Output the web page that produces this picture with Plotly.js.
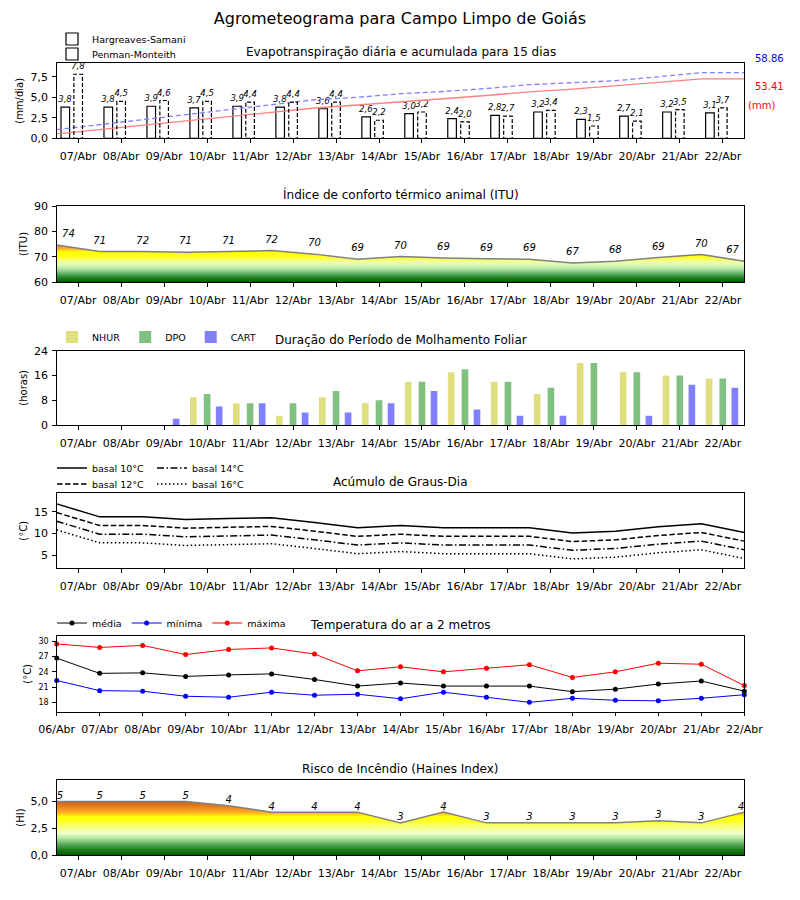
<!DOCTYPE html>
<html><head><meta charset="utf-8">
<script src="https://cdn.plot.ly/plotly-3.0.1.min.js"></script>
<style>body{margin:0;background:#fff}#chart{width:800px;height:900px}</style>
</head><body><div id="chart"></div>
<script>
// ---------- DATA ----------
const days = ['07/Abr','08/Abr','09/Abr','10/Abr','11/Abr','12/Abr','13/Abr','14/Abr','15/Abr','16/Abr','17/Abr','18/Abr','19/Abr','20/Abr','21/Abr','22/Abr'];
const days17 = ['06/Abr','07/Abr','08/Abr','09/Abr','10/Abr','11/Abr','12/Abr','13/Abr','14/Abr','15/Abr','16/Abr','17/Abr','18/Abr','19/Abr','20/Abr','21/Abr','22/Abr'];

const etHS = [3.8,3.8,3.9,3.7,3.9,3.8,3.6,2.6,3.0,2.4,2.8,3.2,2.3,2.7,3.2,3.1];
const etPM = [7.8,4.5,4.6,4.5,4.4,4.4,4.4,2.2,3.2,2.0,2.7,3.4,1.5,2.1,3.5,3.7];
const accHS = [3.9,7.8,11.8,15.6,19.6,23.5,27.2,29.9,33.0,35.5,38.4,41.7,44.1,46.9,50.2,53.41,53.41];
const accPM = [7.8,12.3,16.9,21.4,25.8,30.2,34.6,36.8,40.0,42.0,44.7,48.1,49.6,51.7,55.2,58.86,58.86];
const accHSTotal = '53.41';
const accPMTotal = '58.86';

const ituVals = [74.6,72.0,72.0,71.7,72.0,72.4,71.0,69.0,70.1,69.5,69.2,69.0,67.5,68.2,69.7,70.9,68.2];
const ituLabels = [74,71,72,71,71,72,70,69,70,69,69,69,67,68,69,70,67];

const nhur = [0,0,0,9,7,3,9,7,14,17,14,10,20,17,16,15];
const dpo  = [0,0,0,10,7,7,11,8,14,18,14,12,20,17,16,15];
const cart = [0,0,2,6,7,4,4,7,11,5,3,3,0,3,13,12];

const gd10 = [16.8,13.8,13.8,13.2,13.4,13.6,12.5,11.3,11.8,11.3,11.3,11.3,10.1,10.5,11.5,12.2,10.2];
const gd12 = [14.8,11.8,11.8,11.2,11.4,11.6,10.5,9.3,9.8,9.3,9.3,9.3,8.1,8.5,9.5,10.2,8.2];
const gd14 = [12.8,9.8,9.8,9.2,9.4,9.6,8.5,7.3,7.8,7.3,7.3,7.3,6.1,6.5,7.5,8.2,6.2];
const gd16 = [10.8,7.8,7.8,7.2,7.4,7.6,6.5,5.3,5.8,5.3,5.3,5.3,4.1,4.5,5.5,6.2,4.2];

const tMed = [26.7,23.7,23.8,23.1,23.4,23.6,22.5,21.2,21.8,21.2,21.2,21.2,20.1,20.6,21.6,22.2,20.2];
const tMin = [22.3,20.3,20.2,19.2,19.0,20.0,19.4,19.6,18.7,20.0,19.0,18.0,18.8,18.4,18.3,18.8,19.5];
const tMax = [29.5,28.8,29.2,27.4,28.4,28.7,27.5,24.2,25.0,24.0,24.7,25.4,22.9,24.0,25.7,25.5,21.3];

const hainesVals = [5.0,5.0,5.0,5.0,4.6,4.0,4.0,4.0,3.0,4.0,3.0,3.0,3.0,3.0,3.2,3.0,4.0];
const hainesLabels = [5,5,5,5,4,4,4,4,3,4,3,3,3,3,3,3,4];

// ---------- LAYOUT HELPERS ----------
const W = 800, H = 900;
const X0 = 56.7/W, X1 = 744.3/W;
const panels = [[63.3,138.3],[206,282],[350.7,425],[493.3,568.3],[636,711.7],[780,855]];
const dom = p => [1 - panels[p][1]/H, 1 - panels[p][0]/H];
const idx = days.map((d,i) => i);
const edges = days17.map((d,i) => i - 0.5);
const fmt = v => v.toFixed(1).replace('.', ',');
const FONT = 'DejaVu Sans, Liberation Sans, sans-serif';

function xax(p, anchor, vals, text) {
  return {domain:[X0,X1], anchor:anchor, range:[-0.5,15.5], tickmode:'array', tickvals:vals, ticktext:text,
    ticks:'outside', ticklen:3.5, tickwidth:1, tickcolor:'#000', showline:true, mirror:true, linecolor:'#000',
    linewidth:1, showgrid:false, zeroline:false, tickfont:{size:11, color:'#000'}, ticklabelstandoff:4, fixedrange:true};
}
function yax(p, anchor, range, vals, fmtStr, title, tsize) {
  return {domain:dom(p), anchor:anchor, range:range, tickmode:'array', tickvals:vals, tickformat:fmtStr,
    ticks:'outside', ticklen:3.5, tickwidth:1, tickcolor:'#000', showline:true, mirror:true, linecolor:'#000',
    linewidth:1, showgrid:false, zeroline:false, tickfont:{size:tsize||11, color:'#000'}, ticklabelstandoff:2,
    title:{text:title, font:{size:10, color:'#000'}, standoff:4}, fixedrange:true};
}

const ituScale = [[0,'#005a00'],[0.0625,'#127312'],[0.125,'#2b892b'],[0.1875,'#55a655'],[0.25,'#82c482'],
  [0.3125,'#abe09f'],[0.375,'#ccf2b0'],[0.4375,'#e2fbb2'],[0.5,'#f0ff9c'],[0.5625,'#f8ff60'],[0.625,'#ffff1a'],
  [0.75,'#ffff00'],[0.7875,'#ffcc22'],[0.84375,'#f5a430'],[0.9375,'#e0781c'],[1,'#d06010']];
const hainesScale = [[0,'#005800'],[0.0865,'#1a7a1a'],[0.192,'#5aaa5a'],[0.3077,'#b8eaa8'],[0.3846,'#eeffcc'],
  [0.5,'#faff80'],[0.615,'#ffff20'],[0.692,'#ffff00'],[0.76,'#ffb020'],[0.865,'#e88020'],[1,'#c05510']];

function textPos(n){ return Array.from({length:n}, (v,i) => i===0 ? 'top right' : (i===n-1 ? 'top left' : 'top center')); }

const traces = [
  {type:'bar', name:'Hargreaves-Samani', x:idx, y:etHS, xaxis:'x', yaxis:'y', width:0.2, offset:-0.4,
   marker:{color:'#fff', line:{color:'#000', width:1.2}}, text:etHS.map(fmt), textposition:'outside',
   textfont:{size:8.5, style:'italic', color:'#000'}, constraintext:'none', cliponaxis:false, legend:'legend', hoverinfo:'skip'},
  {type:'bar', name:'Penman-Monteith', x:idx, y:etPM, xaxis:'x', yaxis:'y', width:0.2, offset:-0.1,
   marker:{color:'#fff', line:{width:0}}, text:etPM.map(fmt), textposition:'outside',
   textfont:{size:8.5, style:'italic', color:'#000'}, constraintext:'none', cliponaxis:false, showlegend:false, hoverinfo:'skip'},
  {type:'scatter', mode:'lines', x:edges, y:accHS, xaxis:'x', yaxis:'y7', line:{color:'#ff8080', width:1.3}, showlegend:false, hoverinfo:'skip'},
  {type:'scatter', mode:'lines', x:edges, y:accPM, xaxis:'x', yaxis:'y7', line:{color:'#8080ff', width:1.3, dash:'5px,3px'}, showlegend:false, hoverinfo:'skip'},

  {type:'scatter', mode:'lines+markers+text', x:edges, y:ituVals, xaxis:'x2', yaxis:'y2', fill:'tozeroy',
   fillgradient:{type:'vertical', colorscale:ituScale, start:60, stop:76},
   marker:{size:7, opacity:0, color:'#808080'},
   line:{color:'#808080', width:1.5}, text:ituLabels.map(String), textposition:textPos(17),
   textfont:{size:10, style:'italic', color:'#000'}, cliponaxis:false, showlegend:false, hoverinfo:'skip'},

  {type:'bar', name:'NHUR', x:idx, y:nhur, xaxis:'x3', yaxis:'y3', width:0.155, offset:-0.3975, marker:{color:'#dfdf80'}, legend:'legend3', hoverinfo:'skip'},
  {type:'bar', name:'DPO', x:idx, y:dpo, xaxis:'x3', yaxis:'y3', width:0.155, offset:-0.0775, marker:{color:'#80c080'}, legend:'legend3', hoverinfo:'skip'},
  {type:'bar', name:'CART', x:idx, y:cart, xaxis:'x3', yaxis:'y3', width:0.155, offset:0.2025, marker:{color:'#8080ff'}, legend:'legend3', hoverinfo:'skip'},

  {type:'scatter', mode:'lines', name:'basal 10°C', x:edges, y:gd10, xaxis:'x4', yaxis:'y4', line:{color:'#000', width:1.5}, legend:'legend4', hoverinfo:'skip'},
  {type:'scatter', mode:'lines', name:'basal 14°C', x:edges, y:gd14, xaxis:'x4', yaxis:'y4', line:{color:'#000', width:1.5, dash:'7px,2.5px,1.5px,2.5px'}, legend:'legend4', hoverinfo:'skip'},
  {type:'scatter', mode:'lines', name:'basal 12°C', x:edges, y:gd12, xaxis:'x4', yaxis:'y4', line:{color:'#000', width:1.5, dash:'5.5px,2.5px'}, legend:'legend5', hoverinfo:'skip'},
  {type:'scatter', mode:'lines', name:'basal 16°C', x:edges, y:gd16, xaxis:'x4', yaxis:'y4', line:{color:'#000', width:1.5, dash:'1.5px,2.5px'}, legend:'legend5', hoverinfo:'skip'},

  {type:'scatter', mode:'lines+markers', name:'média', x:edges, y:tMed, xaxis:'x5', yaxis:'y5', line:{color:'#000', width:1}, marker:{color:'#000', size:5}, legend:'legend6', cliponaxis:false, hoverinfo:'skip'},
  {type:'scatter', mode:'lines+markers', name:'mínima', x:edges, y:tMin, xaxis:'x5', yaxis:'y5', line:{color:'#0000ff', width:1}, marker:{color:'#0000ff', size:5}, legend:'legend6', cliponaxis:false, hoverinfo:'skip'},
  {type:'scatter', mode:'lines+markers', name:'máxima', x:edges, y:tMax, xaxis:'x5', yaxis:'y5', line:{color:'#ff0000', width:1}, marker:{color:'#ff0000', size:5}, legend:'legend6', cliponaxis:false, hoverinfo:'skip'},

  {type:'scatter', mode:'lines+text', x:edges, y:hainesVals, xaxis:'x6', yaxis:'y6', fill:'tozeroy',
   fillgradient:{type:'vertical', colorscale:hainesScale, start:0, stop:5.2},
   line:{color:'#808080', width:1.5}, text:hainesLabels.map(String), textposition:textPos(17),
   textfont:{size:10, style:'italic', color:'#000'}, cliponaxis:false, showlegend:false, hoverinfo:'skip'}
];

// dashed outlines for Penman-Monteith bars
const shapes = etPM.map((v,i) => ({type:'rect', xref:'x', yref:'y', x0:i-0.1, x1:i+0.1, y0:0, y1:v,
  line:{color:'#000', width:1.2, dash:'4px,2px'}, fillcolor:'rgba(0,0,0,0)', layer:'above',
  showlegend: i===0, name:'Penman-Monteith', legend:'legend2'}));

const titles = ['Evapotranspiração diária e acumulada para 15 dias','Índice de conforto térmico animal (ITU)',
  'Duração do Período de Molhamento Foliar','Acúmulo de Graus-Dia','Temperatura do ar a 2 metros','Risco de Incêndio (Haines Index)'];
const annotations = titles.map((t,p) => ({text:t, xref:'paper', yref:'paper', x:(X0+X1)/2, y:dom(p)[1],
  xanchor:'center', yanchor:'bottom', yshift:2, showarrow:false, font:{size:12, color:'#000'}}));
annotations.push({text:accPMTotal, xref:'paper', yref:'paper', x:769/W, y:1-58.3/H, xanchor:'center', yanchor:'middle', showarrow:false, font:{size:10, color:'#0000ff'}});
annotations.push({text:accHSTotal, xref:'paper', yref:'paper', x:769/W, y:1-86.7/H, xanchor:'center', yanchor:'middle', showarrow:false, font:{size:10, color:'#ff0000'}});
annotations.push({text:'(mm)', xref:'paper', yref:'paper', x:761/W, y:1-105.7/H, xanchor:'center', yanchor:'middle', showarrow:false, font:{size:10, color:'#ff0000'}});

function leg(xpx, ypx, horiz) {
  return {x:xpx/W, y:1-ypx/H, xanchor:'left', yanchor:'middle', orientation: horiz ? 'h' : 'v',
    bgcolor:'rgba(0,0,0,0)', borderwidth:0, font:{size:9.5, color:'#000'}, itemwidth:30, tracegroupgap:0};
}

const layout = {
  width:W, height:H, margin:{l:0,r:0,t:0,b:0}, paper_bgcolor:'#fff', plot_bgcolor:'#fff',
  font:{family:FONT, color:'#000'}, separators:',.', barmode:'overlay', showlegend:true,
  title:{text:'Agrometeograma para Campo Limpo de Goiás', font:{size:16, color:'#000'}, x:0.5, xanchor:'center', y:1-18/H, yanchor:'middle'},
  xaxis: xax(0,'y', idx, days),
  xaxis2: xax(1,'y2', idx, days),
  xaxis3: xax(2,'y3', idx, days),
  xaxis4: xax(3,'y4', idx, days),
  xaxis5: xax(4,'y5', edges, days17),
  xaxis6: xax(5,'y6', idx, days),
  yaxis: yax(0,'x',[0,9.13],[0,2.5,5,7.5],'.1f','(mm/dia)'),
  yaxis2: yax(1,'x2',[60,90],[60,70,80,90],'d','(ITU)'),
  yaxis3: yax(2,'x3',[0,24],[0,8,16,24],'d','(horas)'),
  yaxis4: yax(3,'x4',[1.93,19.24],[5,10,15],'d','(°C)'),
  yaxis5: yax(4,'x5',[16.16,31.05],[18,21,24,27,30],'d','(°C)', 8),
  yaxis6: yax(5,'x6',[0,7],[0,2.5,5],'.1f','(HI)'),
  yaxis7: {overlaying:'y', anchor:'x', side:'right', range:[0,67.3], visible:false, fixedrange:true},
  legend: leg(52,39,false),
  legend2: leg(52,54,false),
  legend3: leg(52,337,true),
  legend4: Object.assign(leg(52,468,true), {entrywidth:55, entrywidthmode:'pixels'}),
  legend5: Object.assign(leg(52,484,true), {entrywidth:55, entrywidthmode:'pixels'}),
  legend6: leg(52,623,true),
  shapes: shapes,
  annotations: annotations
};

Plotly.newPlot('chart', traces, layout, {displayModeBar:false, staticPlot:true});
</script>
</body></html>
